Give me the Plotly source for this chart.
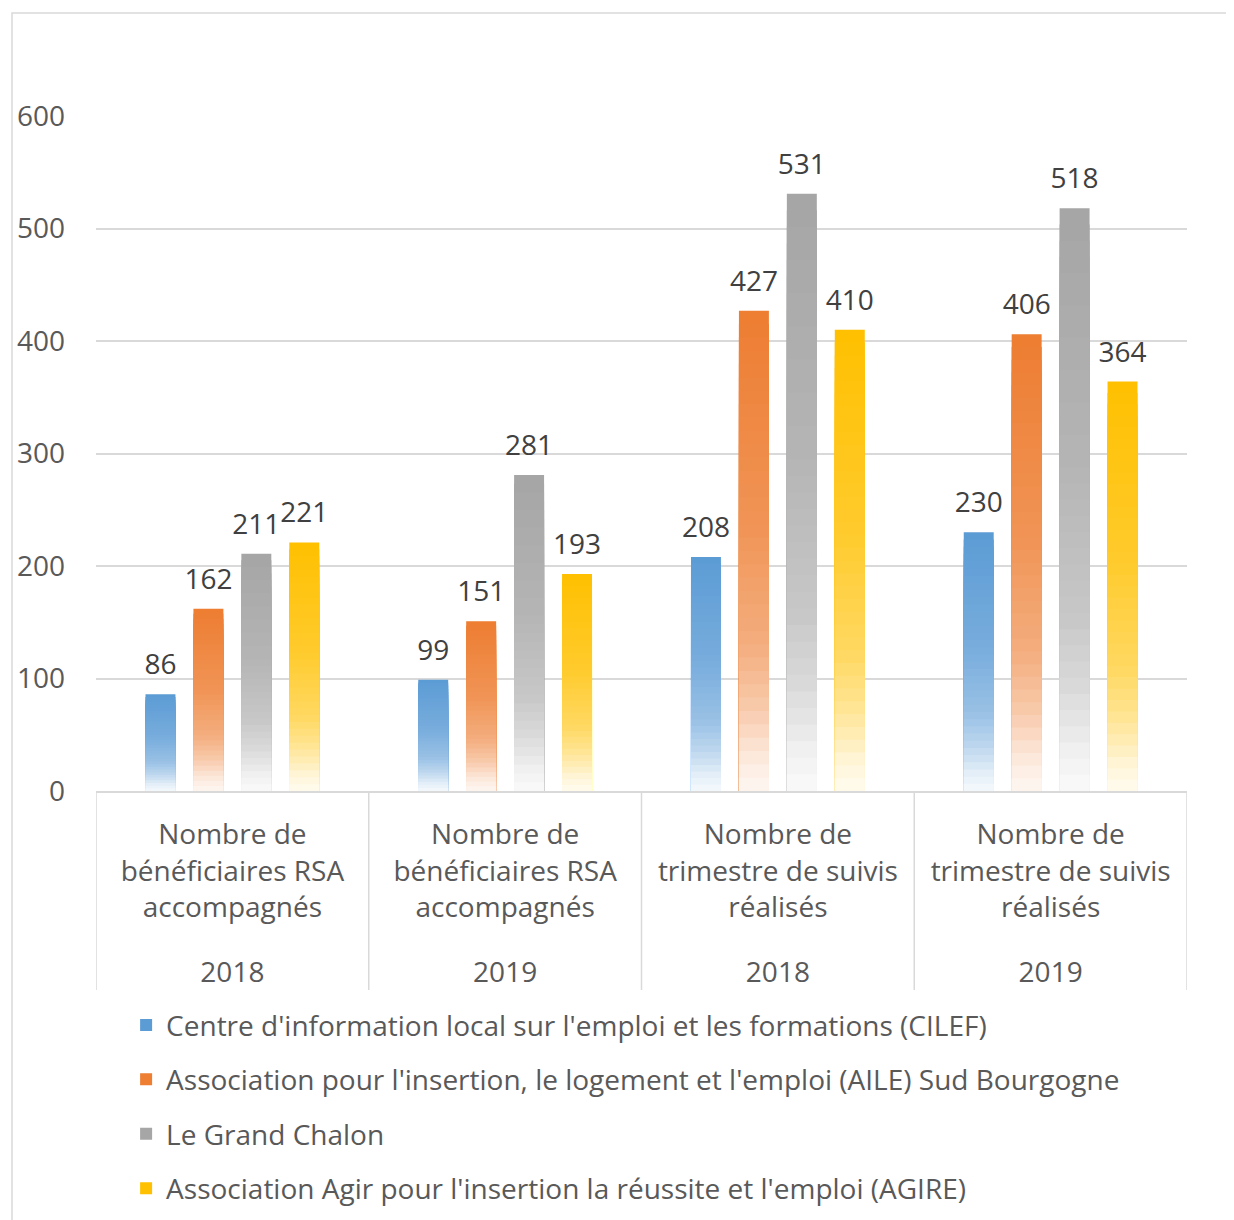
import plotly.graph_objects as go

years = ["2018", "2019", "2018", "2019"]
cats = ["Nombre de<br>bénéficiaires RSA<br>accompagnés",
        "Nombre de<br>bénéficiaires RSA<br>accompagnés",
        "Nombre de<br>trimestre de suivis<br>réalisés",
        "Nombre de<br>trimestre de suivis<br>réalisés"]
series_names = [
    "Centre d'information local sur l'emploi et les formations (CILEF)",
    "Association pour l'insertion, le logement et l'emploi (AILE) Sud Bourgogne",
    "Le Grand Chalon",
    "Association Agir pour l'insertion la réussite et l'emploi (AGIRE)",
]
cilef = [86, 99, 208, 230]
aile = [162, 151, 427, 406]
chalon = [211, 281, 531, 518]
agire = [221, 193, 410, 364]
series_values = [cilef, aile, chalon, agire]
series_colors = [(91, 155, 213), (237, 125, 49), (165, 165, 165), (255, 192, 0)]

# gradient profile: (fraction from top, share of full colour)
grad_stops = [(0.0, 1.0), (0.45, 0.82), (0.7, 0.62), (0.83, 0.40), (0.93, 0.17), (1.0, 0.06)]
NSEG = 36
LABEL_PAD = 8  # gap (in axis units) between bar top and its value label

FONT = "Open Sans"
FS = 28


def mix_at(t):
    for (t0, m0), (t1, m1) in zip(grad_stops[:-1], grad_stops[1:]):
        if t0 <= t <= t1:
            return m0 + (m1 - m0) * (t - t0) / (t1 - t0)
    return grad_stops[-1][1]


def colour(rgb, m):
    r, g, b = (round(255 - (255 - c) * m) for c in rgb)
    return f"rgb({r},{g},{b})"


pos = list(range(len(cats)))
fig = go.Figure()
for si, (name, vals, rgb) in enumerate(zip(series_names, series_values, series_colors)):
    # draw full bar first, then progressively shorter bars (lighter colours) on top
    for k in range(NSEG - 1, -1, -1):
        t = 1 - (k + 0.5) / NSEG
        full = (k == NSEG - 1)
        fig.add_trace(go.Bar(
            x=pos,
            y=[v * (k + 1) / NSEG for v in vals],
            offsetgroup=str(si),
            legendgroup=str(si),
            name=name,
            showlegend=full,
            marker=dict(color=colour(rgb, mix_at(t)), line=dict(width=0)),
            hovertext=[str(v) for v in vals] if full else None,
            hoverinfo="text+name" if full else "skip",
        ))
    # transparent spacer above each bar carrying the value label
    fig.add_trace(go.Bar(
        x=pos,
        y=[LABEL_PAD] * len(vals),
        base=vals,
        offsetgroup=str(si),
        legendgroup=str(si),
        showlegend=False,
        marker=dict(color="rgba(0,0,0,0)", line=dict(width=0)),
        text=[str(v) for v in vals],
        textposition="outside",
        textfont=dict(size=FS, color="#404040", family=FONT),
        constraintext="none",
        cliponaxis=False,
        hoverinfo="skip",
    ))

# invisible trace on the year axis
fig.add_trace(go.Scatter(x=pos, y=[None] * len(pos), xaxis="x2", yaxis="y",
                         mode="markers", showlegend=False, hoverinfo="skip"))

# vertical dividers of the category axis
for b in range(len(cats) + 1):
    fig.add_shape(type="line", xref="x", yref="paper", x0=b - 0.5, x1=b - 0.5,
                  y0=0, y1=(791 - 990) / 675, line=dict(color="#d9d9d9", width=1.5))

# outer frame
fig.add_shape(type="rect", xref="paper", yref="paper",
              x0=(12 - 96) / 1091, x1=(1250 - 96) / 1091,
              y0=(791 - 1240) / 675, y1=(791 - 13) / 675,
              line=dict(color="#d9d9d9", width=1.5), fillcolor="rgba(0,0,0,0)", layer="below")

fig.update_layout(
    width=1226, height=1212,
    margin=dict(l=88, r=47, t=108, b=429, autoexpand=False),
    paper_bgcolor="white", plot_bgcolor="white",
    barmode="group", bargap=0.297, bargroupgap=0.375,
    font=dict(family=FONT, color="#595959", size=FS),
    showlegend=True,
    legend=dict(orientation="v", x=0.0276, xanchor="left", y=-0.310, yanchor="top",
                font=dict(size=FS, color="#595959", family=FONT),
                tracegroupgap=15, itemwidth=30),
    xaxis=dict(range=[-0.5, len(cats) - 0.5], tickvals=pos, ticktext=cats,
               showline=True, linecolor="#d9d9d9", linewidth=1.5,
               tickfont=dict(size=FS, color="#595959", family=FONT),
               ticks="", showgrid=False, zeroline=False, ticklabelstandoff=18,
               automargin=False),
    xaxis2=dict(overlaying="x", anchor="y", side="bottom",
                range=[-0.5, len(cats) - 0.5], tickvals=pos, ticktext=years,
                showline=False, showgrid=False, zeroline=False, ticks="",
                tickfont=dict(size=FS, color="#595959", family=FONT),
                ticklabelstandoff=162, automargin=False),
    yaxis=dict(range=[0, 600], dtick=100, showgrid=True, gridcolor="#d9d9d9", gridwidth=1.5,
               zeroline=False, showline=False,
               tickfont=dict(size=FS, color="#595959", family=FONT),
               ticklabelstandoff=30, automargin=False),
)

fig.write_html("out.html")
